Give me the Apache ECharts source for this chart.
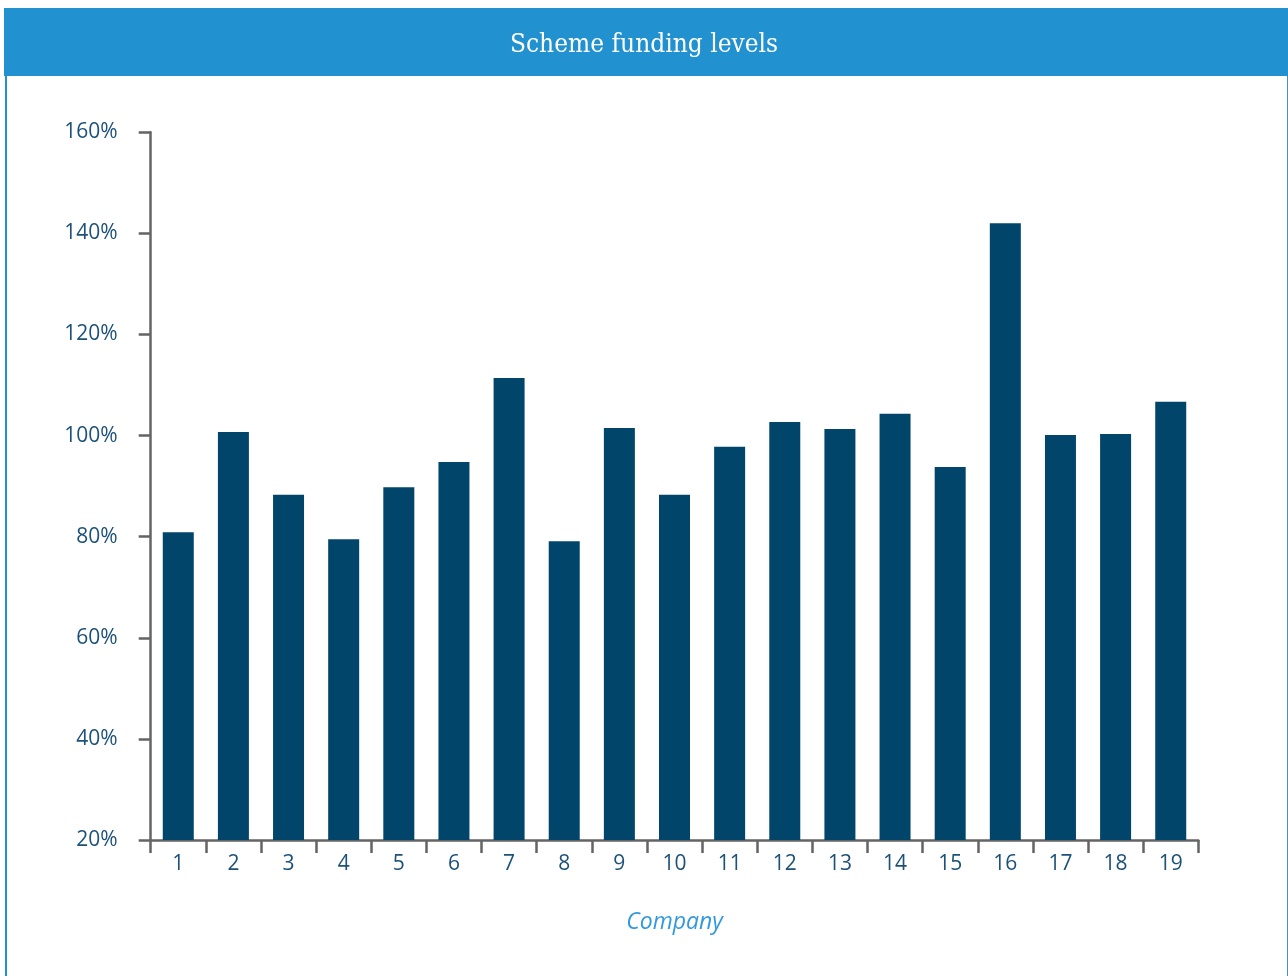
<!DOCTYPE html>
<html>
<head>
<meta charset="utf-8">
<title>Scheme funding levels</title>
<script src="https://cdn.jsdelivr.net/npm/echarts@6/dist/echarts.min.js"></script>
<style>
  html, body { margin: 0; padding: 0; background: #ffffff; }
  #chart { width: 1288px; height: 976px; }
</style>
</head>
<body>
<div id="chart"></div>
<script>
// Funding level of each company's pension scheme (%)
const companies = ['1','2','3','4','5','6','7','8','9','10','11','12','13','14','15','16','17','18','19'];
const fundingLevels = [80.9, 100.7, 88.3, 79.5, 89.8, 94.8, 111.4, 79.1, 101.5, 88.3, 97.8, 102.7, 101.3, 104.3, 93.8, 142.0, 100.1, 100.3, 106.7];
const yTicks = { min: 20, max: 160, step: 20 };

const chart = echarts.init(document.getElementById('chart'), null, { renderer: 'canvas' });

const headerBlue = '#2191d0';
const barBlue = '#01456a';
const labelColor = '#1d5278';
const axisGrey = '#646464';

chart.setOption({
  animation: false,
  backgroundColor: '#ffffff',
  graphic: [
    { type: 'rect', shape: { x: 4, y: 8, width: 1284, height: 68 }, style: { fill: headerBlue }, z: 0 },
    { type: 'rect', shape: { x: 5, y: 76, width: 2, height: 900 }, style: { fill: headerBlue }, z: 0 },
    { type: 'rect', shape: { x: 1287, y: 76, width: 1, height: 900 }, style: { fill: '#4a8fc4' }, z: 0 }
  ],
  title: {
    text: 'Scheme funding levels',
    left: 'center',
    top: 27,
    textStyle: {
      color: '#ffffff',
      fontFamily: '"DejaVu Serif Condensed", "DejaVu Serif", serif',
      fontWeight: 'normal',
      fontSize: 26
    }
  },
  grid: { left: 150.7, right: 89.7, top: 132.3, bottom: 136, containLabel: false },
  xAxis: {
    type: 'category',
    data: companies,
    boundaryGap: true,
    name: 'Company',
    nameLocation: 'middle',
    nameGap: 71,
    nameTextStyle: {
      color: '#3399dd',
      fontStyle: 'italic',
      fontFamily: 'Open Sans',
      fontSize: 23
    },
    axisLine: { lineStyle: { color: axisGrey, width: 2.5 } },
    axisTick: { show: true, inside: false, length: 13, alignWithLabel: false, lineStyle: { color: axisGrey, width: 2.5 } },
    axisLabel: { color: labelColor, fontFamily: 'Open Sans', fontSize: 21, margin: 14 },
    splitLine: { show: false }
  },
  yAxis: {
    type: 'value',
    min: yTicks.min,
    max: yTicks.max,
    interval: yTicks.step,
    axisLine: { show: true, lineStyle: { color: axisGrey, width: 2.5 } },
    axisTick: { show: true, inside: false, length: 12, lineStyle: { color: axisGrey, width: 2.5 } },
    axisLabel: {
      color: labelColor,
      fontFamily: 'Open Sans',
      fontSize: 21,
      margin: 33,
      formatter: v => v + '%'
    },
    splitLine: { show: false }
  },
  series: [{
    type: 'bar',
    data: fundingLevels,
    barWidth: 31,
    itemStyle: { color: barBlue },
    z: 1
  }]
});
</script>
</body>
</html>
